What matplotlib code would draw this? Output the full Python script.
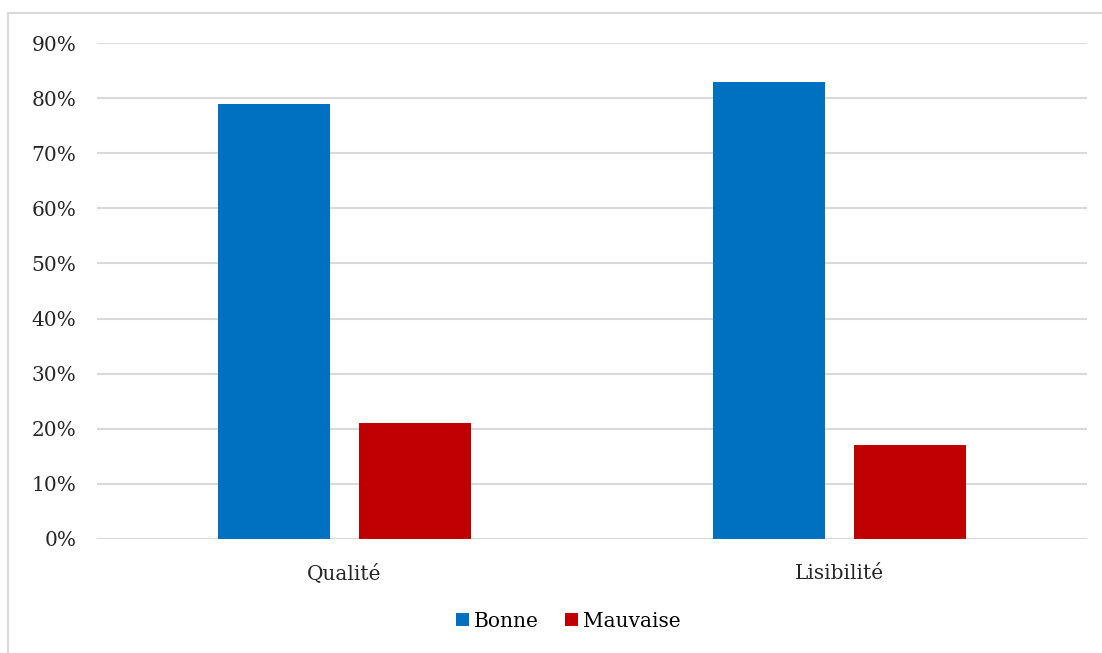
import matplotlib.pyplot as plt
import numpy as np
from matplotlib.lines import Line2D
from matplotlib.ticker import FuncFormatter

categories = ["Qualité", "Lisibilité"]
bonne = [0.79, 0.83]
mauvaise = [0.21, 0.17]

plt.rcParams['font.family'] = ['DejaVu Serif']

fig = plt.figure(figsize=(11.02, 6.53), dpi=100)
ax = fig.add_axes([0.088, 0.1746, 0.8984, 0.7594])

x = np.arange(len(categories))
w = 0.226
ax.bar(x - 0.142, bonne, w, color='#0070C0', label='Bonne', zorder=3)
ax.bar(x + 0.142, mauvaise, w, color='#C00000', label='Mauvaise', zorder=3)

ax.set_xlim(-0.5, 1.5)
ax.set_ylim(0, 0.9)
ax.set_yticks(np.arange(0, 0.91, 0.1))
ax.yaxis.set_major_formatter(FuncFormatter(lambda v, p: "{:.0f}%".format(v * 100)))
ax.set_xticks(x)
ax.set_xticklabels(categories)
ax.grid(axis='y', color='#d9d9d9', linewidth=1.5, zorder=0)
for s in ax.spines.values():
    s.set_visible(False)
ax.tick_params(axis='both', length=0, labelsize=14.5, colors='#404040', labelcolor='#262626')
ax.tick_params(axis='y', pad=15)
ax.tick_params(axis='x', pad=18)

fig.legend(loc='center', bbox_to_anchor=(0.516, 0.049), ncol=2, frameon=False,
           fontsize=14.5, handlelength=0.65, handleheight=0.65, handletextpad=0.25,
           columnspacing=1.3)

# outer frame (top and left edges)
fig.add_artist(Line2D([8 / 1102, 1], [1 - 13 / 653, 1 - 13 / 653], color='#d9d9d9', lw=1.5))
fig.add_artist(Line2D([8 / 1102, 8 / 1102], [0, 1 - 13 / 653], color='#d9d9d9', lw=1.5))

fig.savefig('out.png', dpi=100)
